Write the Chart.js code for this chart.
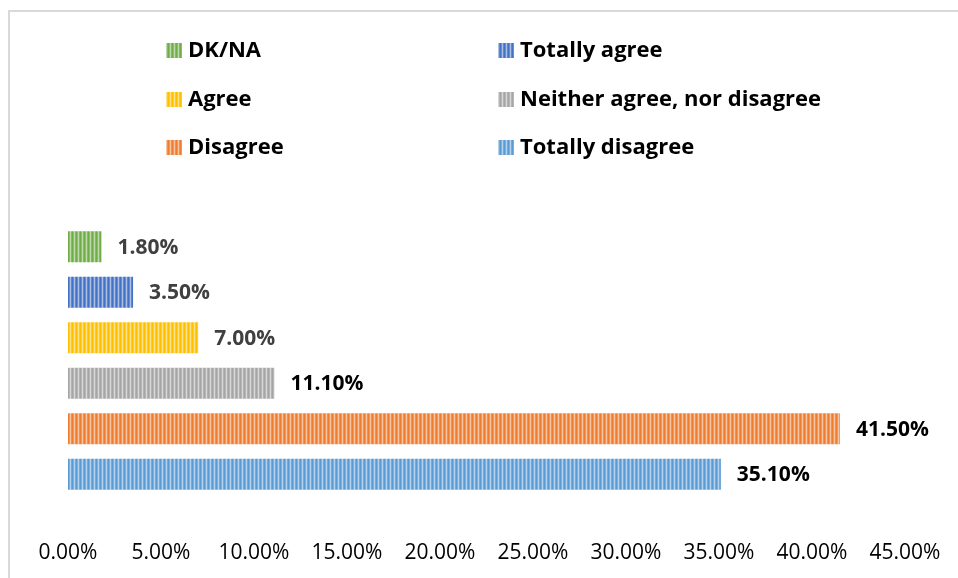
<!DOCTYPE html>
<html>
<head>
<meta charset="utf-8">
<script src="https://cdn.jsdelivr.net/npm/chart.js@4/dist/chart.umd.min.js"></script>
<style>
  html, body { margin: 0; padding: 0; background: #fff; }
  #wrap { position: relative; width: 958px; height: 578px; }
</style>
</head>
<body>
<div id="wrap"><canvas id="answers" width="958" height="578"></canvas></div>
<script>
// survey answers, top bar first
const categories = ['DK/NA', 'Totally agree', 'Agree', 'Neither agree, nor disagree', 'Disagree', 'Totally disagree'];
const shares = [1.8, 3.5, 7.0, 11.1, 41.5, 35.1];
const seriesColors = ['#70AD47', '#4472C4', '#FFC000', '#A5A5A5', '#ED7D31', '#5B9BD5'];
const valueLabelColors = ['#404040', '#404040', '#404040', '#000000', '#000000', '#000000'];
const xTickValues = [0, 5, 10, 15, 20, 25, 30, 35, 40, 45];

const FONT = '"Open Sans", Lato, sans-serif';

function mix(hex, t) {
  // blend hex colour toward white by t
  const n = parseInt(hex.slice(1), 16);
  const r = n >> 16, g = (n >> 8) & 255, b = n & 255;
  const f = (c) => Math.round(c + (255 - c) * t);
  return 'rgb(' + f(r) + ',' + f(g) + ',' + f(b) + ')';
}

// vertical stripe fill, 4px period
function stripes(hex) {
  const c = document.createElement('canvas');
  c.width = 4; c.height = 4;
  const x = c.getContext('2d');
  const shades = [0, 0.2, 0.55, 0.15];
  shades.forEach((t, i) => {
    x.fillStyle = mix(hex, t);
    x.fillRect(i, 0, 1, 4);
  });
  return x.createPattern(c, 'repeat');
}

const fills = seriesColors.map(stripes);

const datasets = categories.map((name, i) => ({
  label: name,
  data: [shares[i]],
  backgroundColor: fills[i],
  borderWidth: 0,
  categoryPercentage: 1,
  barPercentage: 0.68
}));

// frame, legend in two columns, value labels
const decor = {
  id: 'decor',
  beforeDraw(chart) {
    const ctx = chart.ctx;
    ctx.save();
    ctx.fillStyle = '#D9D9D9';
    ctx.fillRect(8, 10, chart.width - 8, 2);
    ctx.fillRect(8, 10, 2, chart.height - 10);
    ctx.restore();
  },
  afterDraw(chart, args, opts) {
    const ctx = chart.ctx;
    ctx.save();
    // legend
    ctx.font = 'bold 22px ' + FONT;
    ctx.textBaseline = 'middle';
    ctx.textAlign = 'left';
    chart.data.datasets.forEach((ds, i) => {
      const col = i % 2, row = Math.floor(i / 2);
      const bx = opts.legendX[col], cy = opts.legendY[row];
      ctx.fillStyle = ds.backgroundColor;
      ctx.fillRect(bx, cy - 7, 16, 15);
      ctx.fillStyle = '#000';
      ctx.fillText(ds.label, bx + 22, cy + 1);
    });
    // value labels at bar ends
    ctx.font = 'bold 21px ' + FONT;
    chart.data.datasets.forEach((ds, i) => {
      const bar = chart.getDatasetMeta(i).data[0];
      ctx.fillStyle = valueLabelColors[i];
      ctx.fillText(ds.data[0].toFixed(2) + '%', bar.x + 16, bar.y + 1);
    });
    ctx.restore();
  }
};

new Chart(document.getElementById('answers'), {
  type: 'bar',
  data: { labels: [''], datasets: datasets },
  options: {
    indexAxis: 'y',
    responsive: false,
    animation: false,
    layout: { padding: { left: 68, right: 53, top: 224, bottom: 13 } },
    scales: {
      x: {
        min: 0,
        max: 45,
        afterBuildTicks(scale) {
          scale.ticks = xTickValues.map(v => ({ value: v }));
        },
        afterFit(scale) {
          scale.height = 68;
          scale.paddingLeft = 0;
          scale.paddingRight = 0;
        },
        grid: { display: false, drawTicks: false },
        border: { display: false },
        ticks: {
          padding: 43,
          color: '#000',
          font: { family: FONT, size: 21 },
          maxRotation: 0,
          callback: (v) => Number(v).toFixed(2) + '%'
        }
      },
      y: { display: false }
    },
    plugins: {
      legend: { display: false },
      tooltip: { enabled: false },
      decor: { legendX: [166, 498], legendY: [50, 99, 147] }
    }
  },
  plugins: [decor]
});
</script>
</body>
</html>
